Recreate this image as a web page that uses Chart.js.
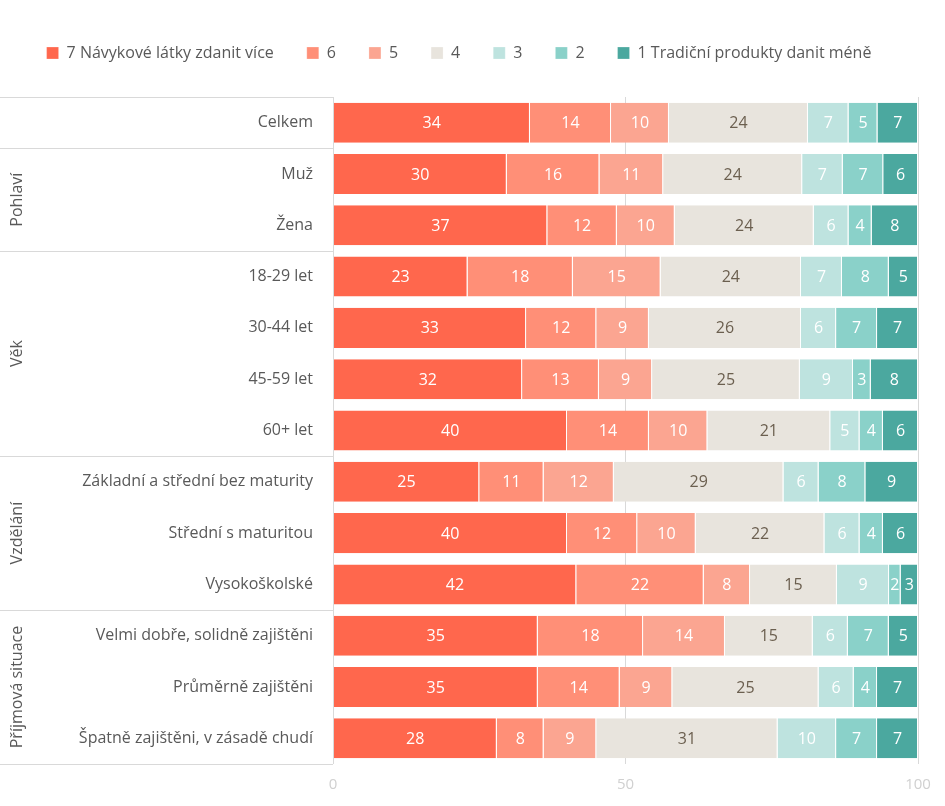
<!DOCTYPE html>
<html><head><meta charset="utf-8">
<script src="https://cdn.jsdelivr.net/npm/chart.js@4"></script>
<style>html,body{margin:0;padding:0;background:#fff}#wrap{width:945px;height:806px}</style>
</head><body><div id="wrap"><canvas id="c"></canvas></div>
<script>
const categories = ['Celkem', 'Muž', 'Žena', '18-29 let', '30-44 let', '45-59 let', '60+ let',
  'Základní a střední bez maturity', 'Střední s maturitou', 'Vysokoškolské',
  'Velmi dobře, solidně zajištěni', 'Průměrně zajištěni', 'Špatně zajištěni, v zásadě chudí'];
const seriesNames = ['7 Návykové látky zdanit více', '6', '5', '4', '3', '2', '1 Tradiční produkty danit méně'];
const s7 = [34, 30, 37, 23, 33, 32, 40, 25, 40, 42, 35, 35, 28];
const s6 = [14, 16, 12, 18, 12, 13, 14, 11, 12, 22, 18, 14, 8];
const s5 = [10, 11, 10, 15, 9, 9, 10, 12, 10, 8, 14, 9, 9];
const s4 = [24, 24, 24, 24, 26, 25, 21, 29, 22, 15, 15, 25, 31];
const s3 = [7, 7, 6, 7, 6, 9, 5, 6, 6, 9, 6, 6, 10];
const s2 = [5, 7, 4, 8, 7, 3, 4, 8, 4, 2, 7, 4, 7];
const s1 = [7, 6, 8, 5, 7, 8, 6, 9, 6, 3, 5, 7, 7];
const groups = [['', 0, 0], ['Pohlaví', 1, 2], ['Věk', 3, 6], ['Vzdělání', 7, 9], ['Příjmová situace', 10, 12]];
const xTicks = [0, 50, 100];
const colors = ['#FF674D', '#FF8F77', '#FBA591', '#E8E4DD', '#BEE3DF', '#8AD1C9', '#4BA89F'];

const all = [s7, s6, s5, s4, s3, s2, s1];
const totals = categories.map((_, i) => all.reduce((a, s) => a + s[i], 0));
const FONT = 'Open Sans';

const datasets = all.map((s, k) => ({
  label: seriesNames[k],
  raw: s,
  data: s.map((v, i) => v / totals[i] * 100),
  backgroundColor: colors[k],
  borderColor: '#fff',
  borderWidth: {left: 0, right: 1, top: 0, bottom: 0},
  borderSkipped: false,
  barPercentage: 0.78,
  categoryPercentage: 1
}));

const labelsPlugin = {
  id: 'vals',
  afterDatasetsDraw(chart) {
    const ctx = chart.ctx;
    ctx.save();
    ctx.font = '16px ' + FONT;
    ctx.textAlign = 'center';
    ctx.textBaseline = 'middle';
    chart.data.datasets.forEach((ds, k) => {
      chart.getDatasetMeta(k).data.forEach((bar, i) => {
        const x = (bar.x + bar.base) / 2;
        ctx.fillStyle = k === 3 ? '#6B5F4F' : '#fff';
        ctx.fillText(ds.raw[i], x, bar.y + 1);
      });
    });
    ctx.restore();
  }
};

const groupsPlugin = {
  id: 'groups',
  afterDraw(chart) {
    const ctx = chart.ctx, y = chart.scales.y, area = chart.chartArea;
    const half = (y.getPixelForValue(1) - y.getPixelForValue(0)) / 2;
    ctx.save();
    ctx.strokeStyle = '#D9D9D9';
    ctx.lineWidth = 1;
    ctx.beginPath();
    ctx.moveTo(area.left + 0.5, area.top);
    ctx.lineTo(area.left + 0.5, area.bottom);
    groups.forEach(g => {
      const top = y.getPixelForValue(g[1]) - half;
      ctx.moveTo(0, Math.round(top) + 0.5);
      ctx.lineTo(area.left, Math.round(top) + 0.5);
    });
    const last = y.getPixelForValue(categories.length - 1) + half;
    ctx.moveTo(0, Math.round(last) + 0.5);
    ctx.lineTo(area.left, Math.round(last) + 0.5);
    ctx.stroke();
    ctx.fillStyle = '#595959';
    ctx.font = '16px ' + FONT;
    ctx.textAlign = 'center';
    ctx.textBaseline = 'middle';
    groups.forEach(g => {
      if (!g[0]) return;
      const mid = (y.getPixelForValue(g[1]) + y.getPixelForValue(g[2])) / 2;
      ctx.save();
      ctx.translate(17, mid);
      ctx.rotate(-Math.PI / 2);
      ctx.fillText(g[0], 0, 0);
      ctx.restore();
    });
    ctx.restore();
  }
};

new Chart(document.getElementById('c'), {
  type: 'bar',
  data: {labels: categories, datasets: datasets},
  plugins: [labelsPlugin, groupsPlugin, {
    id: 'legendGap',
    beforeInit(chart) {
      const fit = chart.legend.fit;
      chart.legend.fit = function () { fit.bind(chart.legend)(); this.height += 26; };
    }
  }],
  options: {
    indexAxis: 'y',
    responsive: true,
    maintainAspectRatio: false,
    animation: false,
    layout: {padding: {left: 0, right: 27, top: 12, bottom: 0}},
    scales: {
      x: {
        stacked: true, min: 0, max: 100,
        afterBuildTicks: s => { s.ticks = xTicks.map(v => ({value: v})); },
        grid: {color: '#D9D9D9', drawTicks: false, drawOnChartArea: true},
        border: {display: false},
        ticks: {color: '#D0D0D0', font: {family: FONT, size: 15}, padding: 12}
      },
      y: {
        stacked: true,
        afterFit: s => { s.width = 333; },
        grid: {display: false},
        border: {display: false},
        ticks: {color: '#595959', font: {family: FONT, size: 16}, padding: 12}
      }
    },
    plugins: {
      legend: {
        position: 'top',
        labels: {boxWidth: 12, boxHeight: 12, color: '#595959', font: {family: FONT, size: 16}, padding: 33},
        onClick: null
      },
      tooltip: {enabled: false}
    }
  }
});
</script></body></html>
